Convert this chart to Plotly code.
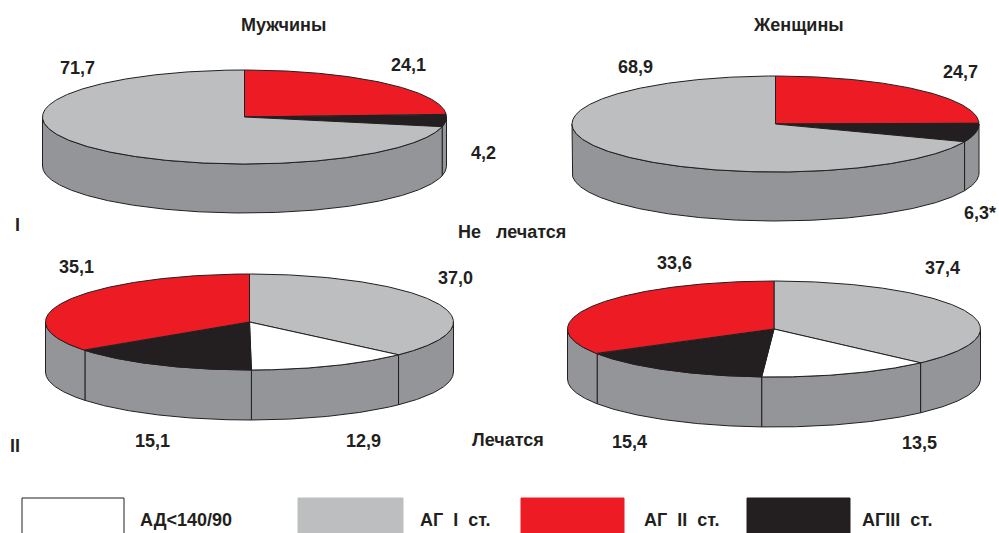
import numpy as np
import plotly.graph_objects as go

# ---- data -------------------------------------------------------------
groups = ["АД<140/90", "АГ I ст.", "АГ II ст.", "АГIII ст."]
group_colors = ["#ffffff", "#bcbec0", "#ed1c24", "#231f20"]

# slices listed clockwise from 12 o'clock
untreated_order = ["АГ II ст.", "АГIII ст.", "АГ I ст."]
men_untreated = [24.1, 4.2, 71.7]
women_untreated = [24.7, 6.3, 68.9]

treated_order = ["АГ I ст.", "АД<140/90", "АГIII ст.", "АГ II ст."]
men_treated = [37.0, 12.9, 15.1, 35.1]
women_treated = [37.4, 13.5, 15.4, 33.6]

titles = ["Мужчины", "Женщины"]
row_labels = ["I", "II"]
row_titles = ["Не   лечатся", "Лечатся"]

# ---- styling / geometry ----------------------------------------------
WALL = "#939598"
EDGE = "#231f20"
TXT = "#231f20"
FONT = "Liberation Sans, Arial, sans-serif"

# (values, order, centre x, centre y, rx, ry, depth, label anchors, suffixes)
pies = [
    (men_untreated, untreated_order, 244.5, 117, 202, 47, 49,
     [(408, 65), (483, 153), (77, 68)], ["", "", ""]),
    (women_untreated, untreated_order, 775.5, 124, 203.5, 48, 49,
     [(960, 72), (980, 213), (635, 67)], ["", "*", ""]),
    (men_treated, treated_order, 249.5, 322, 204, 48, 50,
     [(455, 278), (363, 441), (152, 441), (76, 267)], ["", "", "", ""]),
    (women_treated, treated_order, 774, 329, 206.5, 48, 50,
     [(942, 268), (919, 443), (629, 442), (674, 263)], ["", "", "", ""]),
]

color_of = dict(zip(groups, group_colors))


def ellipse_pts(cx, cy, rx, ry, a0, a1, n):
    t = np.radians(np.linspace(a0, a1, n))
    return cx + rx * np.cos(t), cy - ry * np.sin(t)


fig = go.Figure()


def add_poly(xs, ys, fill):
    fig.add_trace(go.Scatter(
        x=np.append(xs, xs[0]), y=np.append(ys, ys[0]),
        mode="lines", fill="toself", fillcolor=fill,
        line=dict(color=EDGE, width=1), hoverinfo="skip", showlegend=False))


def label_font(size=18):
    return dict(family=FONT, size=size, color=TXT, weight="bold")


for values, order, cx, cy, rx, ry, depth, anchors, suffix in pies:
    total = sum(values)
    spans = []
    start = 90.0
    for v in values:
        end = start - 360.0 * v / total
        spans.append((start, end))
        start = end

    # side wall: visible front half (angles between 0 and -180)
    for a, b in spans:
        hi, lo = min(a, 0.0), max(b, -180.0)
        if hi - lo <= 0.01:
            continue
        n = max(int((hi - lo) * 2), 4)
        tx, ty = ellipse_pts(cx, cy, rx, ry, hi, lo, n)
        bx, by = ellipse_pts(cx, cy + depth, rx, ry, lo, hi, n)
        add_poly(np.concatenate([tx, bx]), np.concatenate([ty, by]), WALL)

    # top face slices
    for (a, b), name in zip(spans, order):
        n = max(int((a - b) * 2), 4)
        ax_, ay_ = ellipse_pts(cx, cy, rx, ry, a, b, n)
        add_poly(np.concatenate([[cx], ax_]), np.concatenate([[cy], ay_]),
                 color_of[name])

    for v, (lx, ly), s in zip(values, anchors, suffix):
        fig.add_annotation(x=lx, y=ly, text=f"{v:.1f}".replace(".", ",") + s,
                           showarrow=False, xanchor="center", yanchor="middle",
                           font=label_font())

# headings
for t, x in zip(titles, [283, 798]):
    fig.add_annotation(x=x, y=25, text=t, showarrow=False, font=label_font())
for t, (x, y) in zip(row_labels, [(17, 225), (15, 446)]):
    fig.add_annotation(x=x, y=y, text=t, showarrow=False, font=label_font())
for t, (x, y) in zip(row_titles, [(512, 232), (508, 440)]):
    fig.add_annotation(x=x, y=y, text=t.replace(" ", "&nbsp;"), showarrow=False,
                       font=label_font())

# legend swatches and captions
legend_boxes = [(22, 124), (298, 403), (521, 624), (747, 850)]
legend_text_x = [138, 418, 642, 860]
for (x0, x1), col, name, tx in zip(legend_boxes, group_colors, groups, legend_text_x):
    fig.add_shape(type="rect", xref="x", yref="y", x0=x0, x1=x1, y0=498, y1=540,
                  fillcolor=col,
                  line=dict(color=EDGE if col == "#ffffff" else col, width=1))
    fig.add_annotation(x=tx, y=520, text=name.replace(" ", "&nbsp;&nbsp;"),
                       showarrow=False, xanchor="left", yanchor="middle",
                       font=dict(family=FONT, size=18, color=TXT, weight="bold"))

fig.update_layout(
    width=999, height=533, autosize=False,
    margin=dict(l=0, r=0, t=0, b=0),
    paper_bgcolor="white", plot_bgcolor="white",
    xaxis=dict(range=[0, 999], visible=False, fixedrange=True),
    yaxis=dict(range=[533, 0], visible=False, fixedrange=True),
)

fig.write_html("out.html")
